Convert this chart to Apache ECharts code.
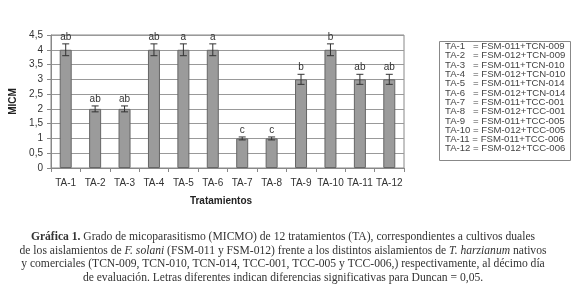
<!DOCTYPE html>
<html><head><meta charset="utf-8">
<script src="https://cdn.jsdelivr.net/npm/echarts@6/dist/echarts.min.js"></script>
<style>html,body{margin:0;padding:0;background:#fff}#c{width:579px;height:300px}</style>
</head><body><div id="c"></div>
<script>
var categories = ['TA-1','TA-2','TA-3','TA-4','TA-5','TA-6','TA-7','TA-8','TA-9','TA-10','TA-11','TA-12'];
var micm = [4, 2, 2, 4, 4, 4, 1, 1, 3, 4, 3, 3];
var errs = [0.2, 0.1, 0.1, 0.2, 0.2, 0.2, 0.05, 0.05, 0.17, 0.2, 0.17, 0.17];
var letters = ['ab','ab','ab','ab','a','a','c','c','b','b','ab','ab'];
var yTicks = [0, 0.5, 1, 1.5, 2, 2.5, 3, 3.5, 4, 4.5];
var legendLines = [
  'TA-1   = FSM-011+TCN-009',
  'TA-2   = FSM-012+TCN-009',
  'TA-3   = FSM-011+TCN-010',
  'TA-4   = FSM-012+TCN-010',
  'TA-5   = FSM-011+TCN-014',
  'TA-6   = FSM-012+TCN-014',
  'TA-7   = FSM-011+TCC-001',
  'TA-8   = FSM-012+TCC-001',
  'TA-9   = FSM-011+TCC-005',
  'TA-10 = FSM-012+TCC-005',
  'TA-11 = FSM-011+TCC-006',
  'TA-12 = FSM-012+TCC-006'
];
var captionLines = [
  '{b|Gráfica 1.} Grado de micoparasitismo (MICMO) de 12 tratamientos (TA), correspondientes a cultivos duales',
  'de los aislamientos de {i|F. solani} (FSM-011 y FSM-012) frente a los distintos aislamientos de {i|T. harzianum} nativos',
  'y comerciales (TCN-009, TCN-010, TCN-014, TCC-001, TCC-005 y TCC-006,) respectivamente, al décimo día',
  'de evaluación. Letras diferentes indican diferencias significativas para Duncan = 0,05.'
];

var chart = echarts.init(document.getElementById('c'));
var graphics = [];
graphics.push({type:'rect', shape:{x:439.5, y:41.5, width:131, height:119}, style:{fill:'#fff', stroke:'#888', lineWidth:1}});
legendLines.forEach(function(t, i){
  graphics.push({type:'text', x:445, y:46.5 + i*9.3, style:{text:t, font:'9.6px "Liberation Sans", Arial, sans-serif', fill:'#444', verticalAlign:'middle', textAlign:'left'}});
});
captionLines.forEach(function(t, i){
  graphics.push({type:'text', x:283, y:237 + i*13.7, style:{text:t, font:'11.6px "Liberation Serif", serif', fill:'#333', textAlign:'center', verticalAlign:'middle',
    rich:{b:{fontWeight:'bold', fontSize:11.6, fontFamily:'Liberation Serif', fill:'#333'}, i:{fontStyle:'italic', fontSize:11.6, fontFamily:'Liberation Serif', fill:'#333'}}}});
});
graphics.push({type:'text', x:221, y:201, style:{text:'Tratamientos', font:'bold 10px "Liberation Sans", Arial, sans-serif', fill:'#222', textAlign:'center', verticalAlign:'middle'}});

chart.setOption({
  animation:false,
  grid:{left:48, right:175, top:35, bottom:132, show:true, borderColor:'#888', borderWidth:1},
  xAxis:{type:'category', data:categories,
    axisLine:{lineStyle:{color:'#888'}},
    axisTick:{show:true, alignWithLabel:false, length:4, lineStyle:{color:'#888'}},
    axisLabel:{interval:0, fontSize:10, color:'#333', margin:10, fontFamily:'Liberation Sans'}},
  yAxis:{type:'value', min:0, max:4.5, interval:0.5,
    name:'MICM', nameLocation:'middle', nameGap:33, nameRotate:90,
    nameTextStyle:{fontWeight:'bold', fontSize:10, color:'#222', fontFamily:'Liberation Sans'},
    axisLine:{show:true, lineStyle:{color:'#888'}},
    axisTick:{show:true, length:4, lineStyle:{color:'#888'}},
    axisLabel:{fontSize:10, color:'#333', fontFamily:'Liberation Sans', margin:8, formatter:function(v){return String(v).replace('.',',');}},
    splitLine:{lineStyle:{color:'#999', width:1}}},
  series:[
    {type:'bar', data:micm, barWidth:12, itemStyle:{color:'#9b9b9b', borderColor:'#666', borderWidth:1}},
    {type:'custom', data:micm.map(function(v,i){return [i, v, errs[i]];}),
     renderItem:function(params, api){
       var x = api.value(0), v = api.value(1), e = api.value(2);
       var top = api.coord([x, v+e]), bot = api.coord([x, v-e]);
       var w = 3.5;
       return {type:'group', children:[
         {type:'line', shape:{x1:top[0], y1:top[1], x2:bot[0], y2:bot[1]}, style:{stroke:'#333', lineWidth:1}},
         {type:'line', shape:{x1:top[0]-w, y1:top[1], x2:top[0]+w, y2:top[1]}, style:{stroke:'#333', lineWidth:1}},
         {type:'line', shape:{x1:bot[0]-w, y1:bot[1], x2:bot[0]+w, y2:bot[1]}, style:{stroke:'#333', lineWidth:1}},
         {type:'text', x:top[0], y:top[1]-2, style:{text:letters[params.dataIndex], font:'10px "Liberation Sans", Arial, sans-serif', fill:'#333', textAlign:'center', textVerticalAlign:'bottom'}}
       ]};
     }, z:5}
  ],
  graphic:graphics
});
</script></body></html>
